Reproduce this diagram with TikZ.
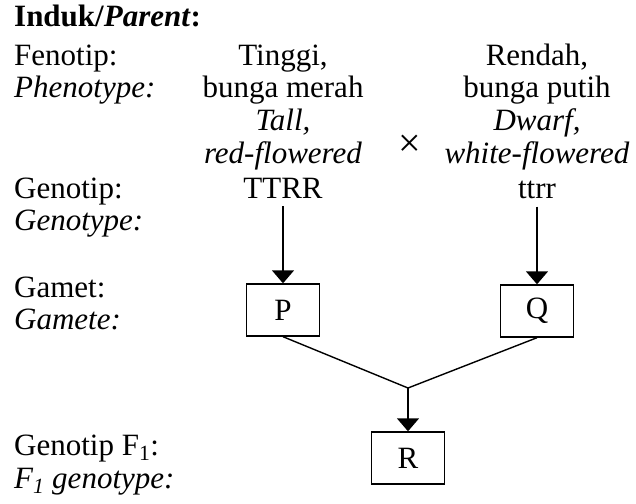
\documentclass[tikz,border=0pt]{standalone}
\usepackage{fontspec}
\setmainfont{Liberation Serif}
\usetikzlibrary{arrows.meta}

\begin{document}
\begin{tikzpicture}[x=1pt,y=-1pt,
	txt/.style={inner sep=0pt,font=\fontsize{31}{33}\selectfont},
	lft/.style={txt,anchor=base west},
	mid/.style={txt,anchor=base},
	gbox/.style={draw,line width=1.4pt,minimum width=73pt,minimum height=52pt,inner sep=0pt,font=\fontsize{31}{33}\selectfont},
	arr/.style={line width=1.4pt,-{Triangle[width=22pt,length=13pt]}}]
\useasboundingbox (0,0) rectangle (636,503);
% row labels
\node[lft] (induk) at (14,27) {\textbf{Induk/\textit{Parent}:}};
\node[lft] (fen) at (14,65) {Fenotip:};
\node[lft] (phen) at (14,97) {\textit{Phenotype:}};
\node[lft] (gen) at (14,198) {Genotip:};
\node[lft] (geno) at (14,230) {\textit{Genotype:}};
\node[lft] (gam) at (14,297) {Gamet:};
\node[lft] (game) at (14,329) {\textit{Gamete:}};
\node[lft] (genf) at (14,455) {Genotip F\textsubscript{1}:};
\node[lft] (fgeno) at (14,488) {\textit{F\textsubscript{1} genotype:}};
% parents
\node[mid] (tinggi) at (283,65) {Tinggi,};
\node[mid] (merah) at (283,97) {bunga merah};
\node[mid] (tall) at (283,130) {\textit{Tall,}};
\node[mid] (red) at (283,163) {\textit{red-flowered}};
\node[mid] (TTRR) at (283,198) {TTRR};
\node[mid] (rendah) at (537,65) {Rendah,};
\node[mid] (putih) at (537,97) {bunga putih};
\node[mid] (dwarf) at (537,130) {\textit{Dwarf,}};
\node[mid] (white) at (537,163) {\textit{white-flowered}};
\node[mid] (ttrr) at (537,198) {ttrr};
\node[inner sep=0pt,font=\fontsize{40}{40}\selectfont] (cross) at (410,146) {×};
% gametes and offspring
\node[gbox] (P) at (283,310) {P};
\node[gbox] (Q) at (537,311) {Q};
\node[gbox] (R) at (408,458) {R};
\coordinate (J) at (408,388);
\draw[arr,shorten <=8pt] (TTRR.south) -- (P.north);
\draw[arr,shorten <=8pt] (ttrr.south) -- (Q.north);
\draw[line width=1.4pt] (P.south) -- (J) -- (Q.south);
\draw[arr] (J) -- (R.north);
\end{tikzpicture}
\end{document}
